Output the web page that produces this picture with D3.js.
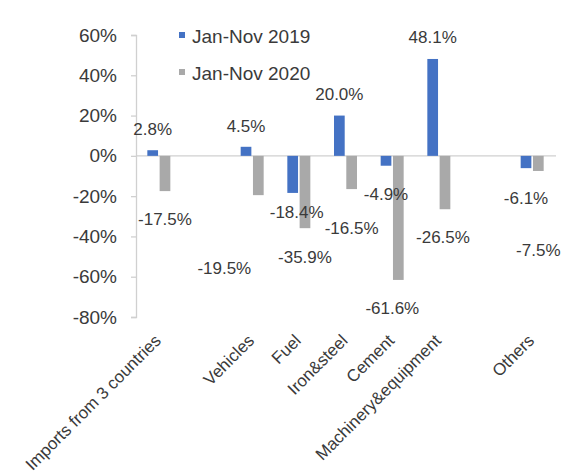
<!DOCTYPE html>
<html>
<head>
<meta charset="utf-8">
<script src="https://cdn.jsdelivr.net/npm/d3@7"></script>
<style>
  html, body { margin: 0; padding: 0; background: #fff; }
  svg { display: block; font-family: "Liberation Sans", Arial, sans-serif; }
</style>
</head>
<body>
<svg id="chart" width="564" height="476"></svg>
<script>
// ---- data ----
const categories = ["Imports from 3 countries", "", "Vehicles", "Fuel", "Iron&steel", "Cement", "Machinery&equipment", "", "Others"];
const seriesNames = ["Jan-Nov 2019", "Jan-Nov 2020"];
const values2019 = [2.8, null, 4.5, -18.4, 20.0, -4.9, 48.1, null, -6.1];
const values2020 = [-17.5, null, -19.5, -35.9, -16.5, -61.6, -26.5, null, -7.5];
const yTicks = [60, 40, 20, 0, -20, -40, -60, -80];

// ---- layout (label nudges in px, matching the manually placed labels) ----
const nudge2019 = [[0,0],[0,0],[0,0],[4,-9],[0,-1],[0,0],[0,-1],[0,0],[0,2]];
const nudge2020 = [[0,0],[0,0],[-34,45],[0,1],[0,11],[-6,0],[-2,0],[0,0],[0,51]];
const colors = ["#4472C4", "#A9A9A9"];
const textColor = "#3a3a3a";

const svg = d3.select("#chart");
const plot = { left: 136, right: 556, top: 35, bottom: 317 };

const y = d3.scaleLinear().domain([-80, 60]).range([plot.bottom, plot.top]);
const x0 = d3.scaleBand().domain(d3.range(categories.length)).range([plot.left, plot.right]).paddingInner(0).paddingOuter(0);
const groupW = 23;
const x1 = d3.scaleBand().domain(seriesNames).range([0, groupW]).paddingInner(0.13);

// y axis
const yAxis = d3.axisLeft(y).tickValues(yTicks).tickSize(5).tickPadding(14).tickFormat(d => d + "%");
const gy = svg.append("g").attr("transform", `translate(${plot.left},0)`).call(yAxis);
gy.select(".domain").attr("stroke", "#d0d0d0").attr("stroke-width", 1.3);
gy.selectAll(".tick line").attr("stroke", "#d0d0d0").attr("stroke-width", 1.3);
gy.selectAll(".tick text").attr("fill", textColor).style("font-size", "19px");

// zero line
svg.append("line")
  .attr("x1", plot.left).attr("x2", plot.right)
  .attr("y1", y(0)).attr("y2", y(0))
  .attr("stroke", "#d0d0d0").attr("stroke-width", 1.3);

// bars
const series = [values2019, values2020];
const nudges = [nudge2019, nudge2020];
const barX = (name, i) => x0(i) + x0.bandwidth() / 2 - groupW / 2 - 0.5 + x1(name);
const labelData = [];
series.forEach((vals, si) => {
  const name = seriesNames[si];
  const data = vals.map((v, i) => ({ i, v, si })).filter(d => d.v !== null);
  svg.append("g").selectAll("rect").data(data).join("rect")
    .attr("x", d => barX(name, d.i))
    .attr("width", x1.bandwidth())
    .attr("y", d => y(Math.max(0, d.v)))
    .attr("height", d => Math.abs(y(d.v) - y(0)))
    .attr("fill", colors[si]);
  labelData.push(...data);
});
svg.append("g").selectAll("text").data(labelData).join("text")
  .attr("x", d => barX(seriesNames[d.si], d.i) + x1.bandwidth() / 2 + nudges[d.si][d.i][0])
  .attr("y", d => (d.v >= 0 ? y(d.v) - 21 : y(d.v) + 28) + nudges[d.si][d.i][1])
  .attr("dy", "0.35em")
  .attr("text-anchor", "middle")
  .attr("fill", textColor)
  .style("font-size", "17px")
  .text(d => d.v.toFixed(1) + "%");

// category labels
svg.append("g").selectAll("text").data(categories.map((c, i) => ({ c, i })).filter(d => d.c !== "")).join("text")
  .attr("transform", d => `translate(${x0(d.i) + x0.bandwidth() / 2 - 6},${plot.bottom + 16}) rotate(-45)`)
  .attr("text-anchor", "end")
  .attr("dy", "0.72em")
  .attr("fill", textColor)
  .style("font-size", "17px")
  .text(d => d.c);

// legend
const legend = svg.append("g");
seriesNames.forEach((n, i) => {
  const ly = 36 + i * 37;
  legend.append("rect").attr("x", 179).attr("y", ly - 4).attr("width", 6).attr("height", 6).attr("fill", colors[i]);
  legend.append("text").attr("x", 192).attr("y", ly).attr("dy", "0.35em")
    .attr("fill", textColor).style("font-size", "19px").text(n);
});
</script>
</body>
</html>
